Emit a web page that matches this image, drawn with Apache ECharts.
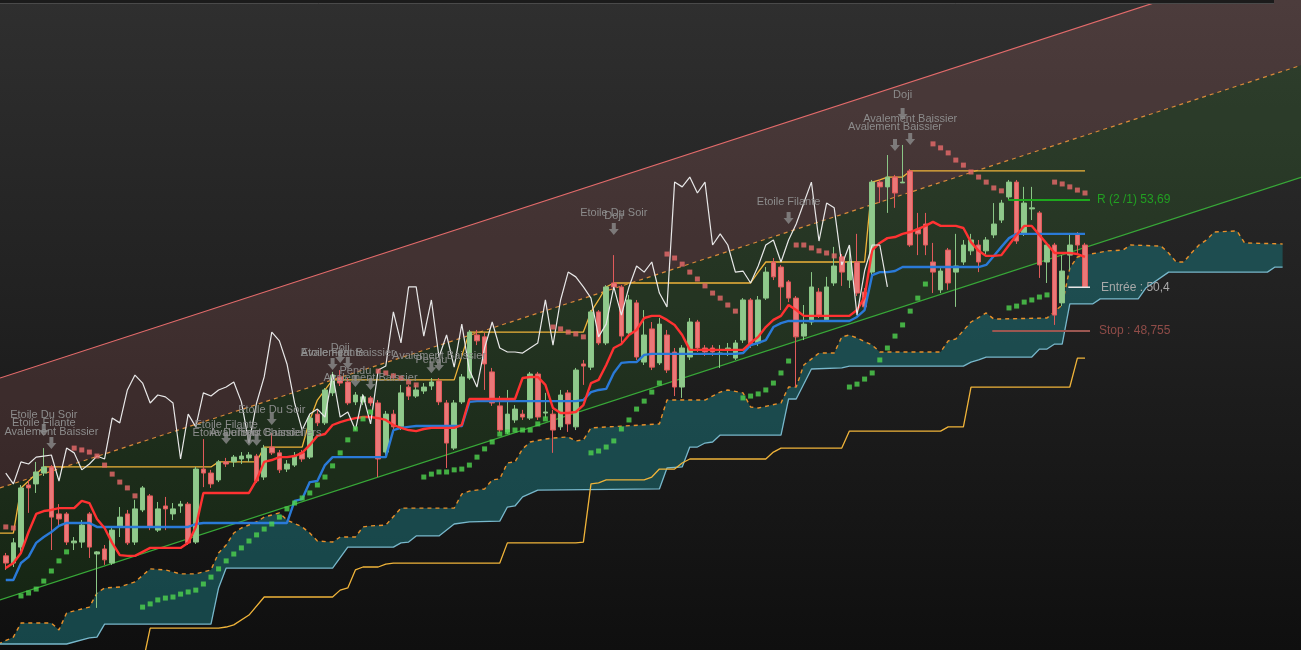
<!DOCTYPE html>
<html><head><meta charset="utf-8">
<script src="https://cdn.jsdelivr.net/npm/echarts@6/dist/echarts.min.js"></script>
<style>
html,body{margin:0;padding:0;background:#111;}
#c{width:1301px;height:650px;background:linear-gradient(180deg,#2f2f2f 0%,#202020 50%,#0f0f0f 100%);}
</style>
</head><body><div id="c"></div>
<script>
// ---- DATA (prices) ----
// candles: [open, close, low, high]
const candles = [
[40.28,40.01,39.75,40.39],[40.01,40.77,39.86,40.95],[40.61,42.84,40.43,42.95],[42.95,42.84,41.90,43.14],[42.99,43.44,42.65,43.82],
[43.40,43.63,43.29,44.34],[43.63,41.74,40.50,43.70],[41.86,41.67,41.44,42.23],[41.86,40.80,40.69,41.93],[40.77,40.84,40.50,40.99],
[40.80,41.44,40.58,41.63],[41.86,40.61,40.20,41.93],[40.35,40.43,38.32,40.46],[40.54,40.13,39.94,40.69],[40.01,41.25,39.94,41.33],
[41.37,41.74,40.99,42.12],[41.86,40.77,40.69,42.01],[40.80,42.05,40.69,42.39],[42.01,42.84,41.93,42.91],[42.54,41.37,41.25,42.61],
[41.25,42.05,41.18,42.31],[42.16,42.05,41.25,42.50],[41.86,42.05,41.63,42.27],[42.16,42.23,41.90,42.35],[42.23,40.77,40.69,42.31],
[40.80,43.55,40.73,43.63],[43.55,43.40,42.87,44.68],[43.40,42.99,42.84,43.52],[43.14,43.82,43.06,43.89],[43.82,43.74,43.63,43.97],
[43.82,44.00,43.63,44.08],[43.93,44.04,43.74,44.19],[43.97,44.08,43.82,44.19],[44.04,43.10,43.03,44.12],[43.25,44.34,43.14,44.46],
[44.38,44.16,44.08,44.91],[44.16,43.52,43.40,44.27],[43.55,43.74,43.44,43.89],[43.70,44.04,43.63,44.19],[44.16,43.93,43.82,44.27],
[44.00,45.47,43.93,45.59],[45.62,45.29,45.17,45.78],[45.29,46.53,45.21,46.60],[46.42,47.09,46.30,47.21],[47.02,46.79,46.68,47.28],
[46.83,46.04,45.96,46.98],[46.08,46.34,45.96,46.45],[46.08,46.27,45.96,46.38],[46.23,46.04,45.93,46.30],[46.04,43.93,43.25,46.15],
[44.19,45.62,44.08,45.74],[45.62,45.14,45.02,45.78],[45.14,46.42,45.02,46.72],[46.64,46.30,46.15,46.72],[46.30,46.53,46.23,46.72],
[46.49,46.64,46.38,46.79],[46.68,46.83,46.53,46.98],[46.87,46.08,45.96,46.98],[46.04,44.53,43.59,46.15],[44.34,46.04,44.27,46.15],
[46.08,47.02,46.00,47.13],[46.98,48.71,46.91,48.79],[48.60,48.38,48.22,48.79],[48.53,47.51,46.53,48.68],[47.21,46.04,45.93,47.36],
[45.93,45.02,44.91,46.30],[44.95,45.62,44.87,46.53],[45.40,45.81,45.29,45.96],[45.62,45.51,45.40,45.78],[45.47,47.13,45.40,47.21],
[47.13,45.51,45.40,47.21],[45.66,45.70,45.47,46.42],[45.62,45.02,44.16,45.78],[45.14,46.34,45.02,46.53],[46.42,45.25,44.95,46.53],
[45.14,47.28,45.02,47.36],[47.51,47.43,46.72,47.66],[47.39,49.47,47.28,49.54],[49.47,48.30,48.22,49.54],[48.30,50.41,48.22,50.48],
[50.56,50.41,50.30,51.61],[50.41,48.56,48.22,50.48],[48.68,49.92,48.60,50.11],[49.81,47.77,47.66,49.92],[47.58,48.60,47.47,49.54],
[48.83,47.39,47.28,49.09],[47.55,49.01,47.47,49.24],[48.60,47.28,47.17,48.79],[47.96,46.64,46.30,48.11],[46.64,48.11,46.23,48.22],
[47.77,49.09,47.66,49.24],[49.09,48.11,47.96,49.17],[48.11,47.96,47.81,48.22],[48.11,47.96,47.81,48.22],[47.89,47.92,47.36,48.22],
[48.04,48.11,47.81,48.30],[47.73,48.30,47.66,48.41],[48.41,49.92,48.30,49.99],[49.92,48.22,48.11,49.99],[48.30,49.92,48.19,50.07],
[49.99,50.97,49.92,51.16],[51.35,50.79,50.67,51.50],[51.16,50.41,49.54,51.24],[50.60,49.99,49.84,50.67],[49.99,48.53,46.64,50.07],
[48.56,49.01,48.41,49.73],[49.09,50.41,48.98,50.97],[50.22,49.35,49.24,50.37],[49.17,50.41,49.09,50.79],[50.56,51.20,50.45,51.92],
[51.54,50.97,50.45,51.65],[50.67,51.35,50.37,51.99],[51.35,50.18,50.07,52.41],[50.22,49.66,49.54,50.37],[50.97,54.36,50.86,54.44],
[54.36,54.18,53.57,54.44],[54.18,54.55,53.20,55.38],[54.55,53.95,53.39,54.63],[54.33,54.36,54.33,55.76],[54.78,51.99,51.92,54.85],
[52.59,52.41,51.61,53.20],[52.78,51.99,51.61,53.20],[51.35,50.97,50.18,52.07],[50.30,51.01,50.18,51.12],[51.80,50.56,50.30,51.88],
[50.97,51.20,49.66,52.41],[51.35,51.99,51.24,52.18],[51.77,52.18,51.61,52.41],[51.99,51.35,50.97,52.18],[51.77,52.18,51.65,52.29],
[52.37,52.78,52.25,53.57],[52.93,53.57,52.82,53.69],[53.80,54.36,53.69,54.44],[54.36,52.14,52.03,54.44],[52.41,53.57,52.33,54.18],
[53.35,53.39,52.93,54.18],[53.20,51.24,50.75,53.27],[51.35,51.99,50.56,52.07],[51.99,49.35,48.98,52.07],[49.81,51.01,49.69,51.61],
[51.61,51.99,51.05,52.41],[52.41,51.99,51.61,52.48],[51.99,50.41,50.37,52.07]
];
// Tenkan (red line), one value per candle
const tenkan = [
39.82,40.01,40.39,41.18,41.86,41.97,42.01,42.08,42.08,42.08,
42.35,42.27,41.67,41.33,40.77,40.31,40.28,40.28,40.43,40.58,
40.58,40.58,40.58,40.58,40.77,41.37,42.65,42.65,42.65,42.65,
42.65,42.65,42.65,43.14,43.82,43.89,44.00,44.00,44.04,44.16,
44.46,44.80,44.87,45.21,45.32,45.40,45.47,45.51,45.51,45.47,
45.40,45.21,45.10,45.02,44.98,45.06,45.10,45.10,45.10,45.10,
45.21,46.19,46.19,46.19,46.19,46.19,46.19,46.19,46.98,47.02,
47.02,46.72,45.85,45.66,45.66,45.70,45.96,46.79,46.91,47.47,
48.11,48.26,48.60,48.79,49.24,49.32,49.32,49.17,48.98,48.60,
48.04,48.04,48.04,48.04,48.04,48.04,48.04,48.04,48.30,48.53,
48.90,49.17,49.32,49.73,49.54,49.32,49.32,49.32,49.32,49.32,
49.32,49.32,49.54,50.03,51.80,52.07,52.25,52.29,52.41,52.48,
52.59,52.71,52.86,52.71,52.71,52.71,52.63,52.10,51.77,51.58,
51.58,51.61,51.99,52.37,52.71,52.71,52.37,52.03,51.69,51.69,
51.69,51.65,51.54
];
// Kijun (blue line)
const kijun = [
39.37,39.37,40.01,40.24,40.77,40.99,41.18,41.41,41.52,41.52,
41.52,41.52,41.37,41.37,41.37,41.37,41.37,41.37,41.37,41.37,
41.37,41.37,41.37,41.37,41.37,41.48,41.52,41.52,41.52,41.52,
41.52,41.52,41.52,41.52,41.52,41.52,41.52,41.52,42.35,42.42,
43.06,43.10,43.70,44.00,44.00,44.00,44.00,44.00,44.00,44.00,
44.00,45.02,45.10,45.14,45.17,45.17,45.17,45.17,45.17,45.17,
45.17,46.08,46.11,46.11,46.11,46.11,46.11,46.11,46.11,46.11,
46.11,46.11,46.11,46.11,46.11,46.11,46.15,46.45,46.53,46.57,
47.17,47.55,47.58,47.58,47.85,47.89,47.89,47.89,47.89,47.89,
47.89,47.89,47.89,47.89,47.89,47.89,47.89,47.92,48.22,48.30,
48.41,48.90,49.05,49.13,49.13,49.13,49.13,49.13,49.13,49.13,
49.13,49.13,49.28,49.54,50.86,50.97,50.97,51.01,51.16,51.16,
51.16,51.16,51.16,51.16,51.16,51.16,51.16,51.16,51.16,51.24,
51.58,51.92,52.25,52.41,52.41,52.41,52.41,52.41,52.41,52.41,
52.41,52.41,52.41
];
// Parabolic SAR
const sar = [
41.37,41.33,38.77,38.88,39.03,39.33,39.71,40.09,40.43,44.34,
44.27,44.19,44.04,43.70,43.36,43.06,42.84,42.54,38.35,38.47,
38.62,38.69,38.73,38.84,38.92,38.99,39.22,39.48,39.79,40.09,
40.35,40.58,40.84,41.07,41.29,41.48,41.74,42.05,42.27,42.46,
42.65,42.95,43.25,43.67,44.16,44.65,45.06,45.44,45.70,47.24,
47.17,47.06,46.98,46.83,46.72,43.25,43.36,43.44,43.44,43.52,
43.55,43.70,44.00,44.31,44.57,44.87,44.95,45.02,45.02,45.02,
45.25,45.44,48.90,48.83,48.71,48.64,48.53,44.16,44.23,44.38,
44.61,45.06,45.40,45.81,46.11,46.45,46.79,51.65,51.50,51.27,
50.97,50.71,50.45,50.18,49.99,49.73,49.50,46.23,46.30,46.38,
46.53,46.79,47.17,47.62,51.99,51.99,51.88,51.77,51.69,51.58,
51.46,46.64,46.75,46.94,47.17,47.66,48.11,48.56,48.98,49.50,
49.99,50.52,55.80,55.65,55.46,55.19,55.00,54.74,54.55,54.36,
54.14,54.03,49.62,49.69,49.84,49.92,50.03,50.11,54.36,54.29,
54.18,54.06,53.95
];
// step line above price (index, price)
const highStep = [[-1,41.14],[1,41.14],[2,42.84],[5,43.63],[27,43.63],[28,43.82],[33,43.82],[34,44.38],[39,44.38],[40,45.40],[41,46.15],[42,46.53],[43,46.91],[59,46.91],[61,48.71],[76,48.71],[77,49.47],[78,49.92],[79,50.41],[80,50.56],[98,50.56],[99,50.97],[100,51.35],[113,51.35],[114,54.36],[115,54.44],[116,54.55],[118,54.55],[119,54.78],[142,54.78]];
// step line below the cloud
const lowStep = [[18,36.2],[19,37.56],[28,37.56],[29,37.60],[30,37.68],[32,38.05],[34,38.73],[43,38.73],[44,38.99],[45,39.07],[46,39.75],[47,39.86],[49,39.86],[50,39.97],[51,40.01],[65,40.01],[66,40.77],[75,40.77],[76,40.80],[77,42.99],[78,43.03],[79,43.14],[84,43.14],[85,43.25],[86,43.55],[88,43.55],[89,43.78],[90,43.93],[100,43.93],[101,44.19],[102,44.34],[110,44.34],[111,44.98],[123,44.98],[124,45.14],[126,45.14],[127,46.64],[140,46.64],[141,47.73],[142,47.73]];
// Ichimoku cloud edges
const cloudTop = [[-1,36.96],[1,37.22],[2,37.75],[6,37.75],[7,37.49],[8,38.13],[10,38.28],[11,38.35],[12,38.88],[13,39.07],[15,39.11],[17,39.30],[19,39.79],[21,39.75],[23,39.60],[25,39.60],[27,39.75],[28,40.39],[29,40.69],[30,41.14],[31,41.33],[33,41.56],[34,41.74],[36,41.90],[37,41.63],[39,41.37],[40,41.14],[41,40.84],[43,40.80],[44,40.99],[46,40.99],[47,41.37],[48,41.41],[50,41.44],[52,42.08],[59,42.08],[60,42.61],[61,42.72],[63,42.80],[64,43.14],[65,43.18],[66,43.78],[67,43.82],[68,44.31],[69,44.57],[71,44.68],[72,44.72],[74,44.76],[75,44.61],[76,44.65],[77,45.10],[86,45.25],[87,46.15],[92,46.15],[94,46.45],[95,46.53],[97,46.42],[98,45.89],[99,45.85],[102,46.04],[103,46.64],[104,46.64],[105,47.47],[107,47.92],[109,47.92],[110,48.53],[111,48.60],[112,48.49],[114,48.22],[115,47.96],[123,47.96],[124,48.38],[125,48.45],[127,49.09],[129,49.43],[130,49.20],[137,49.24],[139,49.73],[140,51.12],[141,51.54],[142,51.61],[145,51.77],[147,51.80],[148,51.99],[152,51.95],[153,51.69],[154,51.35],[155,51.35],[156,51.69],[157,51.99],[158,52.18],[159,52.48],[162,52.52],[163,52.07],[168,52.03]];
const cloudBottom = [[-1,36.96],[8,36.96],[11,37.19],[12,37.22],[13,37.71],[27,37.71],[28,39.07],[29,39.82],[43,39.82],[45,40.61],[51,40.61],[52,40.77],[53,40.80],[54,41.03],[57,41.03],[59,41.48],[61,41.56],[65,41.59],[66,42.12],[67,42.16],[68,42.50],[70,42.76],[86,42.80],[87,43.59],[89,43.63],[90,44.38],[91,44.38],[92,44.53],[93,44.57],[94,44.83],[102,44.83],[103,46.19],[104,46.19],[106,47.32],[110,47.36],[111,47.43],[126,47.43],[127,47.58],[128,47.66],[129,47.77],[135,47.77],[136,48.07],[137,48.07],[138,48.26],[139,48.26],[140,49.77],[143,49.77],[144,49.96],[149,49.96],[150,50.37],[153,50.97],[166,50.97],[167,51.16],[168,51.16]];
// regression channel
const channelUpper = [[-0.76,46.98],[170.42,62.91]];
const channelMid = [[-0.76,42.84],[170.42,58.76]];
const channelLower = [[-0.76,38.62],[170.42,54.54]];
// candlestick pattern signals
const patternArrows = [[5,45.02],[6,44.53],[29,44.72],[32,44.65],[33,44.65],[35,45.44],[43,47.51],[44,47.77],[45,47.55],[46,46.87],[48,46.75],[56,47.39],[57,47.47],[80,52.59],[103,53.01],[117,55.76],[118,56.93],[119,55.98]];
const patternNames = ['Etoile Du Soir','Etoile Filante','Avalement Baissier','Etoile Filante','Etoile Du Soir','Avalement Baissier','Trois Chandeliers','Etoile Du Soir','Etoile Filante','Doji','Avalement Baissier','Pendu','Avalement Baissier','Pendu','Avalement Baissier','Etoile Du Soir','Doji','Etoile Filante','Doji','Avalement Baissier','Avalement Baissier'];
const patternAt = [[5,45.59],[5,45.29],[6,44.95],[29,45.21],[29,44.91],[33,44.91],[35.9,44.91],[35,45.78],[43,47.92],[44,48.11],[45,47.92],[46,47.24],[48,46.98],[56,47.66],[57,47.81],[80,53.20],[80,53.08],[103,53.61],[118,57.64],[119,56.74],[117,56.44]];
// trade levels
const levelNames = ['R (2 /1) 53,69','Entrée : 50,4','Stop : 48,755'];
const levelValues = [53.69, 50.4, 48.755];
const levelFrom = [131.9, 139.8, 129.8];
const levelTo = [142.66, 142.66, 142.66];

// ---- derived ----
const chikou = candles.slice(26).map((c,k)=>[k, c[1]]);
const idx = a => a.map((v,i)=>[i,v]);
const FONT = '"Liberation Sans", Arial, sans-serif';

function band(upper, lower, fill, z){
  return {type:'custom', silent:true, z, data:[[0,50]],
    renderItem:(params, api)=>{
      const pts = upper.map(p=>api.coord(p)).concat(lower.slice().reverse().map(p=>api.coord(p)));
      return {type:'polygon', shape:{points:pts}, style:{fill}};
    }};
}
function line(data, color, width, z, extra){
  return Object.assign({type:'line', data, symbol:'none', silent:true, z, animation:false,
    lineStyle:{color, width}}, extra||{});
}

const levelStyles = [
  {line:'#1ea81e', w:2, text:'#22a022', d:7},
  {line:'#e6e6e6', w:1.5, text:'#a9a9a9', d:11},
  {line:'#9b5751', w:2, text:'#8f4c48', d:9}
];

const series = [
  band(channelUpper, channelMid, 'rgba(255,140,140,0.14)', 1),
  band(channelMid, channelLower, 'rgba(60,190,40,0.12)', 1),
  band(cloudTop, cloudBottom, 'rgba(28,104,108,0.62)', 2),
  line(channelUpper, '#e36b6b', 1.2, 3),
  line(channelMid, '#d98a3a', 1.2, 3, {lineStyle:{color:'#d98a3a', width:1.2, type:[4,4]}}),
  line(channelLower, '#38a838', 1.2, 3),
  line(cloudTop, '#e8902a', 1.4, 3, {lineStyle:{color:'#e8902a', width:1.4, type:[4,4]}}),
  line(cloudBottom, '#78b8cc', 1.3, 3),
  line(lowStep, '#f0b43a', 1.3, 3),
  line(highStep, '#f0b43a', 1.3, 3),
  {type:'candlestick', silent:true, z:4, barWidth:5,
    data: candles.map((c,i)=>[i,c[0],c[1],c[2],c[3]]),
    itemStyle:{color:'#90c98c', color0:'#ea7878', borderColor:'#8ac686', borderColor0:'#e05a5a', borderWidth:1}},
  line(idx(kijun), '#2a7ad8', 2.4, 5),
  line(idx(tenkan), '#ff3232', 2.4, 5),
  line(chikou, '#e8e8e8', 1.2, 6),
  {type:'scatter', silent:true, z:6, symbol:'rect', symbolSize:5,
    data: idx(sar),
    itemStyle:{color:p=> sar[p.dataIndex] > candles[p.dataIndex][1] ? '#e86a6a' : '#4fd34f'}},
  {type:'scatter', silent:true, z:7, data: patternArrows,
    symbol:'path://M3,0H7V6H10L5,12L0,6H3Z', symbolSize:[10,12],
    itemStyle:{color:'#8b8b8b'}},
  {type:'custom', silent:true, z:8, data: patternAt,
    renderItem:(params, api)=>{
      const p = api.coord([api.value(0), api.value(1)]);
      return {type:'text', x:p[0], y:p[1], style:{text:patternNames[params.dataIndex], fill:'#8c8c8c',
        font:'11px '+FONT, align:'center', verticalAlign:'middle'}};
    }}
];
levelNames.forEach((n,k)=>{
  const s = levelStyles[k];
  series.push(line([[levelFrom[k], levelValues[k]],[levelTo[k], levelValues[k]]], s.line, s.w, 8, {
    endLabel:{show:true, formatter:n, color:s.text, fontSize:12, fontFamily:FONT, distance:s.d}
  }));
});

const chart = echarts.init(document.getElementById('c'), null, {renderer:'canvas'});
chart.setOption({
  animation:false,
  backgroundColor:'transparent',
  grid:{left:0, right:0, top:0, bottom:0},
  xAxis:{type:'value', min:-0.76, max:170.42, show:false},
  yAxis:{type:'value', min:36.734, max:61.22, show:false},
  series,
  graphic:[
    {type:'rect', shape:{x:0,y:0,width:1274,height:3}, style:{fill:'#1b1b1b'}, z:100},
    {type:'line', shape:{x1:0,y1:3.5,x2:1274,y2:3.5}, style:{stroke:'#4a4a4a', lineWidth:1}, z:100},
    {type:'group', z:100, children:[64,185,341,383,717,848,1227].map(x=>({type:'line', shape:{x1:x+0.5,y1:0,x2:x+0.5,y2:3}, style:{stroke:'#5a5a5a', lineWidth:1}}))}
  ]
});
</script></body></html>
